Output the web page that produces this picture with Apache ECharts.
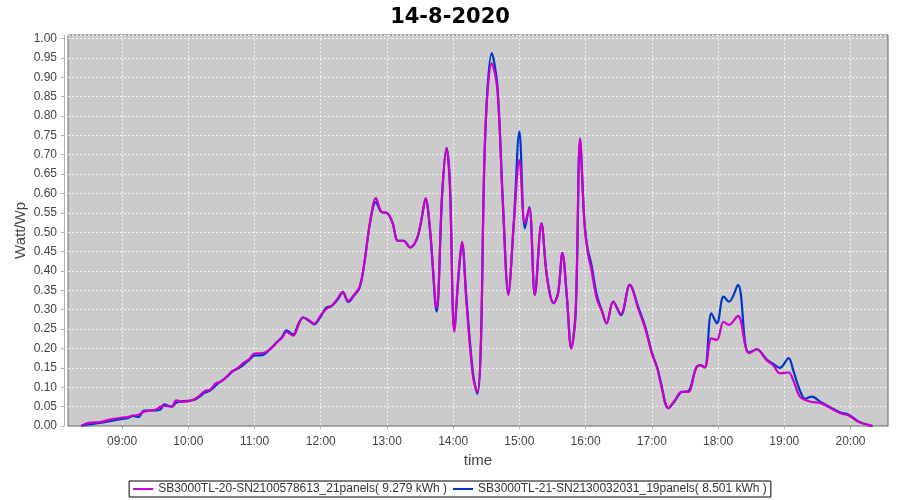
<!DOCTYPE html>
<html>
<head>
<meta charset="utf-8">
<script src="https://cdn.jsdelivr.net/npm/echarts@6/dist/echarts.min.js"></script>
<style>html,body{margin:0;padding:0;background:#fff}#c{width:900px;height:500px}</style>
</head>
<body>
<div id="c"></div>
<script>
var titleText = '14-8-2020';
var seriesNames = ['SB3000TL-20-SN2100578613_21panels( 9.279 kWh )', 'SB3000TL-21-SN2130032031_19panels( 8.501 kWh )'];
var tickTimes = ['09:00','10:00','11:00','12:00','13:00','14:00','15:00','16:00','17:00','18:00','19:00','20:00'];
var times = ['08:23','08:30','08:40','08:50','09:00','09:05','09:10','09:15','09:20','09:30','09:35','09:38','09:45','09:49','09:55','10:05','10:10','10:15','10:20','10:25','10:30','10:35','10:40','10:45','10:50','10:55','11:00','11:07','11:15','11:20','11:25','11:29','11:35','11:40','11:44','11:50','11:54','12:00','12:05','12:10','12:15','12:20','12:25','12:30','12:35','12:39','12:45','12:50','12:55','13:00','13:05','13:10','13:15','13:21','13:27','13:31','13:35','13:39','13:45','13:50','13:54','13:57','14:01','14:05','14:08','14:12','14:18','14:22','14:25','14:29','14:35','14:40','14:45','14:50','14:55','15:00','15:05','15:09','15:14','15:20','15:25','15:31','15:35','15:39','15:43','15:47','15:51','15:55','15:59','16:02','16:05','16:10','16:15','16:19','16:25','16:32','16:40','16:48','16:54','17:00','17:05','17:08','17:15','17:21','17:27','17:33','17:40','17:44','17:48','17:54','17:59','18:05','18:10','18:18','18:25','18:28','18:35','18:44','18:50','18:56','19:04','19:08','19:14','19:19','19:25','19:33','19:42','19:51','19:58','20:07','20:16','20:20'];
var magentaValues = [0,0.008,0.010,0.017,0.022,0.023,0.027,0.029,0.037,0.042,0.050,0.052,0.050,0.066,0.062,0.068,0.078,0.090,0.094,0.110,0.115,0.128,0.142,0.150,0.163,0.172,0.187,0.188,0.200,0.215,0.228,0.243,0.233,0.262,0.280,0.272,0.264,0.285,0.302,0.310,0.328,0.346,0.323,0.338,0.358,0.411,0.532,0.588,0.553,0.550,0.525,0.478,0.478,0.461,0.482,0.530,0.588,0.510,0.304,0.600,0.717,0.620,0.243,0.400,0.476,0.320,0.127,0.088,0.200,0.747,0.936,0.871,0.575,0.338,0.527,0.686,0.523,0.562,0.338,0.523,0.385,0.317,0.342,0.446,0.334,0.200,0.300,0.742,0.523,0.446,0.407,0.330,0.295,0.265,0.321,0.289,0.364,0.300,0.252,0.188,0.149,0.110,0.046,0.067,0.088,0.088,0.149,0.157,0.151,0.226,0.222,0.269,0.261,0.284,0.205,0.188,0.198,0.170,0.157,0.136,0.138,0.119,0.076,0.067,0.062,0.059,0.046,0.033,0.028,0.011,0.003,0];
var blueValues = [0,0.004,0.008,0.013,0.018,0.020,0.026,0.023,0.040,0.040,0.043,0.056,0.050,0.060,0.064,0.067,0.075,0.086,0.092,0.105,0.116,0.127,0.141,0.148,0.158,0.170,0.182,0.183,0.201,0.216,0.230,0.247,0.236,0.265,0.280,0.270,0.262,0.282,0.306,0.310,0.325,0.344,0.320,0.336,0.355,0.410,0.530,0.578,0.552,0.550,0.525,0.478,0.478,0.461,0.482,0.528,0.585,0.505,0.295,0.595,0.718,0.630,0.250,0.390,0.472,0.330,0.135,0.083,0.200,0.747,0.962,0.880,0.580,0.345,0.527,0.760,0.510,0.565,0.338,0.523,0.385,0.317,0.342,0.446,0.334,0.200,0.290,0.735,0.523,0.455,0.420,0.340,0.295,0.265,0.321,0.286,0.364,0.305,0.256,0.190,0.149,0.115,0.046,0.065,0.088,0.090,0.149,0.157,0.151,0.291,0.265,0.334,0.321,0.364,0.205,0.190,0.198,0.172,0.160,0.150,0.175,0.145,0.093,0.070,0.076,0.062,0.048,0.035,0.030,0.012,0.003,0];

function toMin(s){var p=s.split(':');return (+p[0])*60+(+p[1]);}
function fmt(m){var h=Math.floor(m/60),mm=Math.round(m%60);return (h<10?'0':'')+h+':'+(mm<10?'0':'')+mm;}
var xs = times.map(toMin);
var tickVals = tickTimes.map(toMin);
function pairs(vals){return xs.map(function(x,i){return [x, vals[i]];});}

var FONT = 'Liberation Sans';
var chart = echarts.init(document.getElementById('c'), null, {renderer:'canvas'});
chart.setOption({
  animation: false,
  backgroundColor: '#ffffff',
  title: {
    text: titleText, left: 'center', top: 2,
    textStyle: {fontFamily: 'DejaVu Sans', fontWeight: 'bold', fontSize: 21, color: '#000'}
  },
  grid: {
    left: 68, right: 12, top: 35, bottom: 74,
    show: true, backgroundColor: '#cbcbcb', borderColor: '#6b6b6b', borderWidth: 1
  },
  legend: {
    data: [seriesNames[0], seriesNames[1]],
    bottom: 3, left: 'center',
    borderColor: '#000', borderWidth: 1, borderRadius: 0,
    padding: [2, 4, 2, 4], itemGap: 6, itemWidth: 20, itemHeight: 8,
    textStyle: {fontFamily: FONT, fontSize: 12, color: '#333'},
    icon: 'path://M0,3.5 L20,3.5 L20,5.5 L0,5.5 Z'
  },
  xAxis: {
    type: 'value', min: 491, max: 1234,
    offset: 4,
    name: 'time', nameLocation: 'middle', nameGap: 22,
    nameTextStyle: {fontFamily: FONT, fontSize: 15, color: '#444'},
    axisLine: {show: true, lineStyle: {color: '#b0b0b0', width: 1}},
    axisTick: {show: true, customValues: tickVals, length: 3, inside: false, lineStyle: {color: '#b0b0b0'}},
    axisLabel: {customValues: tickVals, formatter: function(v){return fmt(v);}, fontFamily: FONT, fontSize: 12, color: '#444', margin: 6},
    splitLine: {show: true, lineStyle: {color: '#f2f2f2', type: [2, 2], width: 1}}
  },
  yAxis: {
    type: 'value', min: 0, max: 1.009, interval: 0.05,
    offset: 4,
    name: 'Watt/Wp', nameLocation: 'middle', nameGap: 36, nameRotate: 90, nameMoveOverlap: false,
    nameTextStyle: {fontFamily: FONT, fontSize: 15, color: '#444'},
    axisLine: {show: true, lineStyle: {color: '#b0b0b0', width: 1}},
    axisTick: {show: true, length: 3, lineStyle: {color: '#b0b0b0'}},
    axisLabel: {formatter: function(v){return v.toFixed(2);}, showMaxLabel: false, fontFamily: FONT, fontSize: 12, color: '#444', margin: 7},
    splitLine: {show: true, lineStyle: {color: '#f2f2f2', type: [2, 2], width: 1}}
  },
  series: [
    {
      name: seriesNames[1], type: 'line', data: pairs(blueValues),
      smooth: 0.35, showSymbol: false, z: 2,
      lineStyle: {color: '#0036cc', width: 2.2}, itemStyle: {color: '#0036cc'}
    },
    {
      name: seriesNames[0], type: 'line', data: pairs(magentaValues),
      smooth: 0.35, showSymbol: false, z: 3,
      lineStyle: {color: '#cc00cc', width: 2.2}, itemStyle: {color: '#cc00cc'}
    }
  ]
});
</script>
</body>
</html>
